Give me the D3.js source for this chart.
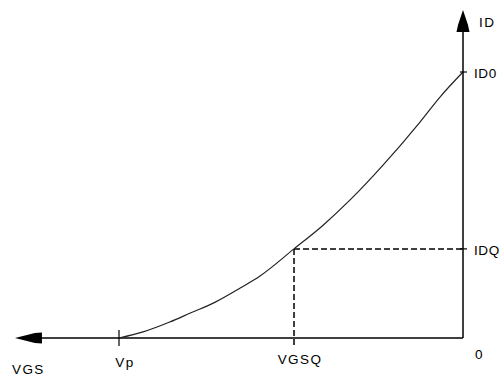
<!DOCTYPE html>
<html>
<head>
<meta charset="utf-8">
<script src="https://cdn.jsdelivr.net/npm/d3@7"></script>
<style>
  body { margin: 0; background: #fff; }
  text { font-family: "Liberation Sans", Arial, sans-serif; font-size: 13.5px; fill: #000; letter-spacing: 1.4px; }
  text.ylab { letter-spacing: 0.6px; }
</style>
</head>
<body>
<svg id="viz"></svg>
<script>
var width = 501;
var height = 376;

// transfer curve, VGS in volts (Vp = -4), ID in mA (ID0 = 10)
var vgs = [-4, -3.72, -3.41, -3.17, -2.88, -2.59, -2.36, -1.965, -1.63, -1.31, -0.93, -0.5, -0.27, 0];
var id  = [0, 0.23, 0.6, 0.94, 1.35, 1.88, 2.33, 3.35, 4.23, 5.2, 6.5, 8.12, 9.05, 10];

// marked points on the axes
var xTicks = [-4, -1.965];
var xLabels = ["Vp", "VGSQ"];
var yTicks = [10, 3.35];
var yLabels = ["ID0", "IDQ"];
var q = {vgs: -1.965, id: 3.35};

// axis extents (arrow tips)
var xEnd = -5.21;
var yEnd = 12.33;

var svg = d3.select("#viz").attr("width", width).attr("height", height);

var x = d3.scaleLinear().domain([-4, 0]).range([119, 463]);
var y = d3.scaleLinear().domain([0, 10]).range([338, 72]);

var pts = vgs.map(function(v, i) { return [v, id[i]]; });

// axes
svg.append("line")
    .attr("x1", x(xEnd) + 20).attr("y1", y(0))
    .attr("x2", x(0)).attr("y2", y(0))
    .attr("stroke", "#000").attr("stroke-width", 1.5);
svg.append("line")
    .attr("x1", x(0)).attr("y1", y(yEnd) + 18)
    .attr("x2", x(0)).attr("y2", y(0))
    .attr("stroke", "#000").attr("stroke-width", 1.5);

// arrow heads
var ax = x(xEnd), ay = y(0);
svg.append("path")
    .attr("d", "M" + ax + "," + ay + " L" + (ax + 20) + "," + (ay - 5) + " L" + (ax + 27) + "," + (ay - 5.5) +
               " L" + (ax + 27) + "," + (ay + 5.5) + " L" + (ax + 20) + "," + (ay + 5) + " Z")
    .attr("fill", "#000");
var bx = x(0), by = y(yEnd);
svg.append("path")
    .attr("d", "M" + bx + "," + by + " L" + (bx - 5) + "," + (by + 15) + " L" + (bx - 6.5) + "," + (by + 22) +
               " L" + (bx + 6.5) + "," + (by + 22) + " L" + (bx + 5) + "," + (by + 15) + " Z")
    .attr("fill", "#000");

// dashed Q-point lines
svg.append("line")
    .attr("x1", x(q.vgs)).attr("y1", y(q.id))
    .attr("x2", x(q.vgs)).attr("y2", y(0) + 9)
    .attr("stroke", "#000").attr("stroke-width", 1.5).attr("stroke-dasharray", "6,3");
svg.append("line")
    .attr("x1", x(q.vgs)).attr("y1", y(q.id))
    .attr("x2", x(0)).attr("y2", y(q.id))
    .attr("stroke", "#000").attr("stroke-width", 1.5).attr("stroke-dasharray", "6,3");

// curve
var line = d3.line()
    .x(function(d) { return x(d[0]); })
    .y(function(d) { return y(d[1]); })
    .curve(d3.curveMonotoneX);
svg.append("path")
    .datum(pts)
    .attr("d", line)
    .attr("fill", "none")
    .attr("stroke", "#222")
    .attr("stroke-width", 1.2);

// ticks
svg.append("line")
    .attr("x1", x(-4)).attr("y1", y(0) - 8)
    .attr("x2", x(-4)).attr("y2", y(0) + 8)
    .attr("stroke", "#000").attr("stroke-width", 1.2);
yTicks.forEach(function(t) {
    svg.append("line")
        .attr("x1", x(0) - 3).attr("y1", y(t))
        .attr("x2", x(0) + 4).attr("y2", y(t))
        .attr("stroke", "#000").attr("stroke-width", 1.2);
});

// labels
svg.selectAll(".xlab")
    .data(xTicks)
    .enter().append("text")
    .attr("class", "xlab")
    .attr("x", function(d) { return x(d) + 6; })
    .attr("y", function(d, i) { return i == 0 ? 367 : 364; })
    .attr("text-anchor", "middle")
    .text(function(d, i) { return xLabels[i]; });

svg.selectAll(".ylab")
    .data(yTicks)
    .enter().append("text")
    .attr("class", "ylab")
    .attr("x", x(0) + 11)
    .attr("y", function(d) { return y(d) + 6; })
    .text(function(d, i) { return yLabels[i]; });

svg.append("text").attr("x", x(0) + 16).attr("y", 27).text("ID");
svg.append("text").attr("x", x(0) + 12).attr("y", 359).text("0");
svg.append("text").attr("x", 12).attr("y", 374).text("VGS");
</script>
</body>
</html>
